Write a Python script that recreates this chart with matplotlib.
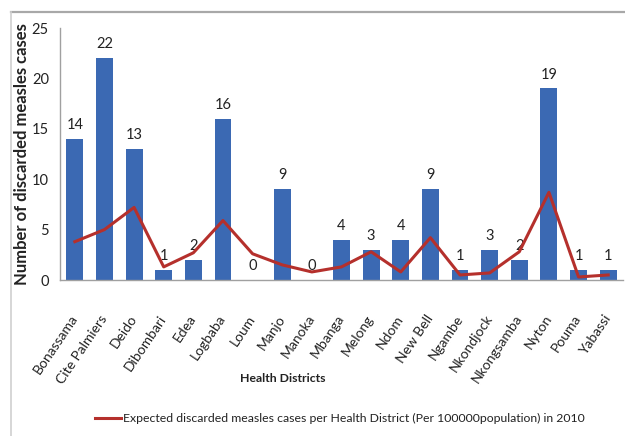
import matplotlib
matplotlib.use("Agg")
import matplotlib.pyplot as plt
from matplotlib.lines import Line2D
import numpy as np

districts = ["Bonassama", "Cite Palmiers", "Deido", "Dibombari", "Edea", "Logbaba",
             "Loum", "Manjo", "Manoka", "Mbanga", "Melong", "Ndom", "New Bell",
             "Ngambe", "Nkondjock", "Nkongsamba", "Nyton", "Pouma", "Yabassi"]
discarded = [14, 22, 13, 1, 2, 16, 0, 9, 0, 4, 3, 4, 9, 1, 3, 2, 19, 1, 1]
expected = [3.8, 5.0, 7.2, 1.3, 2.7, 5.9, 2.6, 1.5, 0.8, 1.3, 2.8, 0.8, 4.2,
            0.5, 0.7, 2.8, 8.7, 0.3, 0.5]
yticks = [0, 5, 10, 15, 20, 25]

plt.rcParams['font.family'] = ['Lato', 'DejaVu Sans']

W, H = 625, 436
fig = plt.figure(figsize=(W / 100, H / 100), dpi=100)
fig.patch.set_facecolor("white")

# outer frame
fig.add_artist(Line2D([11 / W, 1], [1 - 12 / H, 1 - 12 / H], transform=fig.transFigure,
                      color="#a8a8a8", lw=1.6))
fig.add_artist(Line2D([11 / W, 11 / W], [0, 1 - 12 / H], transform=fig.transFigure,
                      color="#d0d0d0", lw=1.2))

ax = fig.add_axes([60 / W, 1 - 280 / H, (623 - 60) / W, (280 - 28) / H])
x = np.arange(len(districts))
ax.bar(x, discarded, width=0.57, color="#3b69b3", zorder=2)
ax.plot(x, expected, color="#b5302c", lw=2.2, zorder=3)

for xi, v in zip(x, discarded):
    ax.annotate(str(v), (xi, v), xytext=(0, 5), textcoords="offset points",
                ha="center", va="bottom", fontsize=10.5, color="#222222", zorder=1)

ax.set_xlim(-0.5, len(districts) - 0.5)
ax.set_ylim(0, 25)
ax.set_yticks(yticks)
ax.set_yticklabels([str(t) for t in yticks], fontsize=10.5, color="#222222")
ax.set_xticks(x)
ax.set_xticklabels(districts, rotation=56, ha="right", va="center",
                   rotation_mode="anchor", fontsize=10, color="#222222")
ax.tick_params(axis="x", length=0, pad=26)
ax.tick_params(axis="y", length=0, pad=8)
for s in ["top", "right"]:
    ax.spines[s].set_visible(False)
ax.spines["left"].set_color("#a0a0a0")
ax.spines["bottom"].set_color("#a0a0a0")
ax.spines["left"].set_linewidth(1.0)
ax.spines["bottom"].set_linewidth(1.0)

ax.set_ylabel("Number of discarded measles cases", fontsize=12, fontweight="bold",
              color="#222222")
ax.yaxis.set_label_coords(-30 / (623 - 60), 0.5)

fig.text(283 / W, 1 - 379 / H, "Health Districts", ha="center", va="center",
         fontsize=8.8, fontweight="bold", color="#222222")

# legend
fig.add_artist(Line2D([95 / W, 121 / W], [1 - 418 / H, 1 - 418 / H],
                      transform=fig.transFigure, color="#b5302c", lw=2.2))
fig.text(123 / W, 1 - 418 / H,
         "Expected discarded measles cases per Health District (Per 100000population) in 2010",
         ha="left", va="center", fontsize=8.8, color="#222222")

fig.savefig("out.png", dpi=100, facecolor="white")
